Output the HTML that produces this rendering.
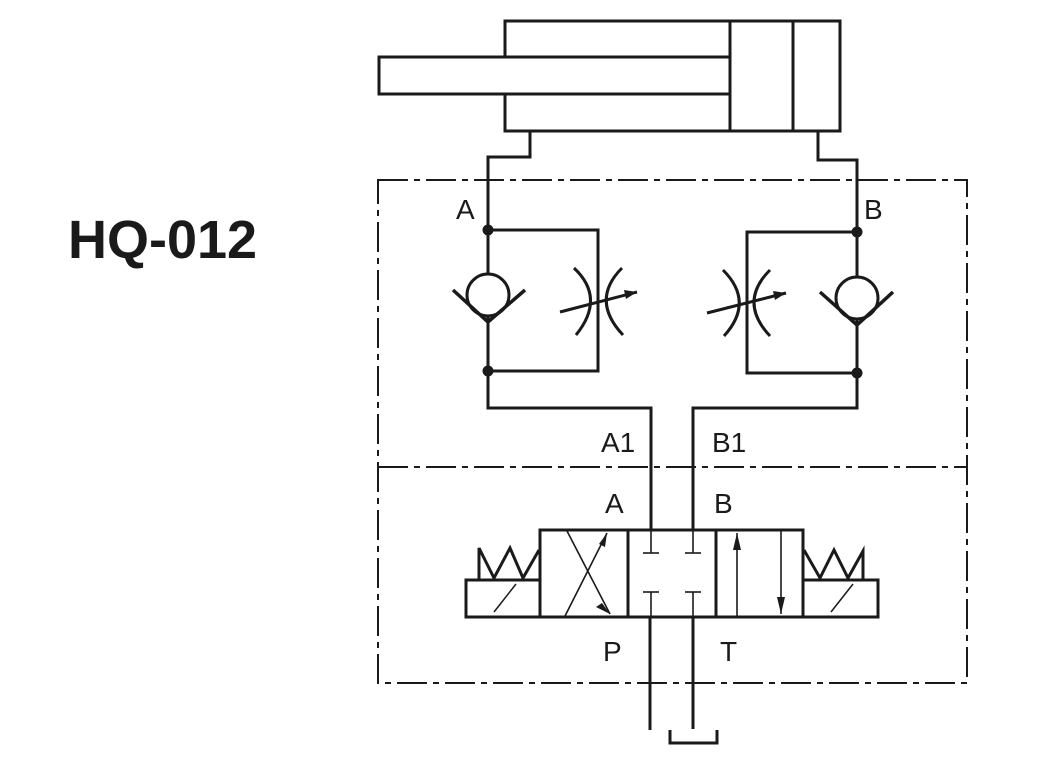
<!DOCTYPE html>
<html><head><meta charset="utf-8"><style>
html,body{margin:0;padding:0;background:#fff;}
svg{display:block}
text{font-family:"Liberation Sans",sans-serif;fill:#1a1a1a}
</style></head><body>
<svg width="1038" height="778" viewBox="0 0 1038 778" xmlns="http://www.w3.org/2000/svg">
<text x="68" y="258" font-size="54" font-weight="bold">HQ-012</text>
<g fill="none" stroke="#1a1a1a" stroke-width="3" stroke-linejoin="miter">
<polyline points="505,57 505,21 840,21 840,131 505,131 505,94"/>
<rect x="379" y="57" width="351" height="37"/>
<line x1="730" y1="21" x2="730" y2="131"/>
<line x1="793" y1="21" x2="793" y2="131"/>
<polyline points="530,131 530,157 488,157 488,408 651,408 651,530"/>
<polyline points="818,131 818,160 857,160 857,408 693,408 693,530"/>
<g stroke-width="2" stroke-dasharray="30,6,6,6">
<rect x="378" y="180" width="589" height="503"/>
<line x1="378" y1="467" x2="967" y2="467"/>
</g>
<polyline points="488,230 598,230 598,371 488,371"/>
<circle cx="488" cy="295" r="21" fill="#fff"/>
<polyline points="453,290 488,322 525,290" stroke-width="3.5"/>
<path d="M574,268 Q606,298 576,335"/>
<path d="M622,268 Q590,300 623,335"/>
<line x1="560" y1="312" x2="637" y2="292"/>
<polyline points="857,232 747,232 747,373 857,373"/>
<circle cx="857" cy="298" r="21" fill="#fff"/>
<polyline points="820,292 857,325 893,292" stroke-width="3.5"/>
<path d="M723,270 Q755,302 724,336"/>
<path d="M770,270 Q738,302 770,336"/>
<line x1="707" y1="313" x2="786" y2="293"/>
<rect x="540" y="530" width="263" height="87"/>
<line x1="628" y1="530" x2="628" y2="617"/>
<line x1="716" y1="530" x2="716" y2="617"/>
<rect x="466" y="580" width="74" height="37"/>
<rect x="803" y="580" width="75" height="37"/>
<line x1="494" y1="612" x2="516" y2="584" stroke-width="1.5"/>
<line x1="831" y1="612" x2="853" y2="584" stroke-width="1.5"/>
<polyline points="479,580 479,548 494,578 510,548 523,578 539,550"/>
<polyline points="804,550 820,578 834,550 848,578 863,551 863,580"/>
<g stroke-width="1.6">
<line x1="567" y1="531" x2="610" y2="614"/>
<line x1="565" y1="616" x2="607" y2="533"/>
<line x1="651" y1="530" x2="651" y2="553"/><line x1="643" y1="553" x2="659" y2="553"/>
<line x1="693" y1="530" x2="693" y2="553"/><line x1="685" y1="553" x2="701" y2="553"/>
<line x1="651" y1="592" x2="651" y2="617"/><line x1="643" y1="592" x2="659" y2="592"/>
<line x1="693" y1="592" x2="693" y2="617"/><line x1="685" y1="592" x2="701" y2="592"/>
<line x1="737" y1="533" x2="737" y2="617"/>
<line x1="781" y1="530" x2="781" y2="614"/>
</g>
<polyline points="650,617 650,730"/>
<polyline points="693,617 693,729"/>
<polyline points="670,730 670,743 717,743 717,730"/>
</g>
<g fill="#1a1a1a">
<circle cx="488" cy="230" r="5.5"/><circle cx="488" cy="371" r="5.5"/>
<circle cx="857" cy="232" r="5.5"/><circle cx="857" cy="373" r="5.5"/>
<polygon points="637,292 624,290 626,299"/>
<polygon points="786,293 773,291 775,300"/>
<polygon points="607,533 599,544 605,547"/>
<polygon points="610,614 602,603 596,607"/>
<polygon points="737,533 733,550 741,550"/>
<polygon points="781,614 777,597 785,597"/>
</g>
<g font-size="28">
<text x="456" y="219">A</text>
<text x="864" y="219">B</text>
<text x="601" y="452">A1</text>
<text x="712" y="452">B1</text>
<text x="605" y="513">A</text>
<text x="714" y="513">B</text>
<text x="603" y="661">P</text>
<text x="720" y="661">T</text>
</g>
</svg>
</body></html>
